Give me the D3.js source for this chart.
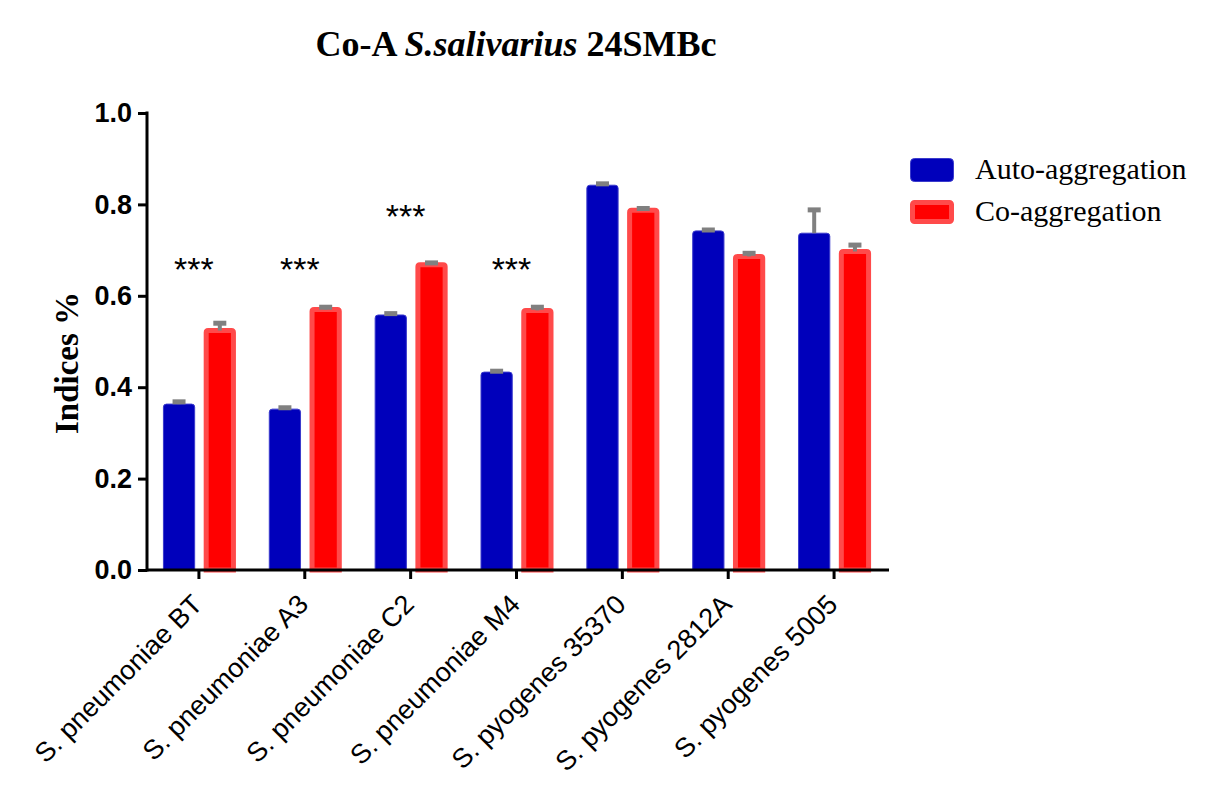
<!DOCTYPE html>
<html>
<head>
<meta charset="utf-8">
<script src="https://cdn.jsdelivr.net/npm/d3@7"></script>
<style>
  body { margin: 0; background: #fff; }
  svg { display: block; }
</style>
</head>
<body>
<svg id="chart" width="1209" height="798"></svg>
<script>
// Data
const categories = ["S. pneumoniae BT", "S. pneumoniae A3", "S. pneumoniae C2", "S. pneumoniae M4",
                    "S. pyogenes 35370", "S. pyogenes 2812A", "S. pyogenes 5005"];
const seriesNames = ["Auto-aggregation", "Co-aggregation"];
const autoValues = [0.363, 0.352, 0.558, 0.433, 0.842, 0.742, 0.737];
const autoErrors = [0.005, 0.003, 0.003, 0.002, 0.003, 0.002, 0.051];
const coValues = [0.524, 0.570, 0.668, 0.568, 0.787, 0.686, 0.697];
const coErrors = [0.016, 0.005, 0.004, 0.007, 0.004, 0.007, 0.014];
const starCategories = ["S. pneumoniae BT", "S. pneumoniae A3", "S. pneumoniae C2", "S. pneumoniae M4"];
const starLevels = [0.675, 0.675, 0.79, 0.675];
const yTicks = [0, 0.2, 0.4, 0.6, 0.8, 1.0];

const svg = d3.select("#chart");
const colors = { auto: "#0000bb", autoEdge: "#3a3acc", co: "#ff0000", coEdge: "#ff4a4a", err: "#808080" };

const x = d3.scaleBand().domain(categories).range([146, 887]).padding(0);
const inner = d3.scaleBand().domain(["auto", "co"]).range([-36, 37]).paddingInner(0.209);
const y = d3.scaleLinear().domain([0, 1]).range([570, 113]);

// bar with rounded top corners
function barPath(x0, x1, yTop, yBase, r) {
    return `M${x0},${yBase}V${yTop + r}Q${x0},${yTop} ${x0 + r},${yTop}H${x1 - r}Q${x1},${yTop} ${x1},${yTop + r}V${yBase}Z`;
}

const rows = categories.map((c, i) => ({ cat: c, auto: autoValues[i], autoErr: autoErrors[i], co: coValues[i], coErr: coErrors[i] }));

const bars = svg.append("g");
rows.forEach(d => {
    const cx = x(d.cat) + x.bandwidth() / 2;
    // auto-aggregation bar (thin edge)
    const ax0 = cx + inner("auto") + 0.5, ax1 = cx + inner("auto") + inner.bandwidth() - 0.5;
    bars.append("path")
        .attr("d", barPath(ax0, ax1, y(d.auto), y(0), 3))
        .attr("fill", colors.auto).attr("stroke", colors.autoEdge).attr("stroke-width", 1);
    // co-aggregation bar (thick light edge)
    const rx0 = cx + inner("co") + 2.5, rx1 = cx + inner("co") + inner.bandwidth() - 2.5;
    bars.append("path")
        .attr("d", barPath(rx0, rx1, y(d.co), y(0), 2))
        .attr("fill", colors.co).attr("stroke", colors.coEdge).attr("stroke-width", 5);

    // error bars (upper only)
    [[ (ax0 + ax1) / 2, d.auto, d.autoErr ], [ (rx0 + rx1) / 2, d.co, d.coErr ]].forEach(([ex, v, e]) => {
        bars.append("line")
            .attr("x1", ex).attr("x2", ex).attr("y1", y(v)).attr("y2", y(v + e))
            .attr("stroke", colors.err).attr("stroke-width", 4);
        bars.append("line")
            .attr("x1", ex - 6.5).attr("x2", ex + 6.5).attr("y1", y(v + e)).attr("y2", y(v + e))
            .attr("stroke", colors.err).attr("stroke-width", 5);
    });
});

// significance stars
svg.append("g").selectAll("text")
    .data(starCategories)
    .join("text")
    .attr("x", c => x(c) + x.bandwidth() / 2 - 5)
    .attr("y", (c, i) => y(starLevels[i]) + 19)
    .attr("text-anchor", "middle")
    .style("font-family", "Arial, 'Liberation Sans', sans-serif")
    .style("font-size", "34px")
    .text("***");

// Y axis
const yAxis = svg.append("g")
    .attr("transform", "translate(147,0)")
    .call(d3.axisLeft(y).tickValues(yTicks).tickFormat(d3.format(".1f")).tickSize(9).tickSizeOuter(0).tickPadding(6));
yAxis.select(".domain").attr("stroke", "#000").attr("stroke-width", 3).attr("d", `M0,${y(1) - 1.5}V${y(0) + 1.5}`);
yAxis.selectAll(".tick line").attr("stroke", "#000").attr("stroke-width", 3);
yAxis.selectAll(".tick text")
    .style("font-family", "Arial, 'Liberation Sans', sans-serif")
    .style("font-size", "27px").style("font-weight", "bold").attr("fill", "#000");

// X axis
const xAxis = svg.append("g")
    .attr("transform", "translate(0,570)")
    .call(d3.axisBottom(x).tickSize(9).tickSizeOuter(0));
xAxis.select(".domain").attr("stroke", "#000").attr("stroke-width", 3).attr("d", "M146,0H889");
xAxis.selectAll(".tick line").attr("stroke", "#000").attr("stroke-width", 3);
xAxis.selectAll(".tick text")
    .attr("transform", "translate(5,36) rotate(-45)")
    .attr("x", 0).attr("y", 0).attr("dy", 0)
    .attr("text-anchor", "end")
    .style("font-family", "Arial, 'Liberation Sans', sans-serif")
    .style("font-size", "27px").attr("fill", "#000");

// Y title
svg.append("text")
    .attr("transform", "translate(78,363) rotate(-90)")
    .attr("text-anchor", "middle")
    .style("font-family", "'Liberation Serif', 'Times New Roman', serif")
    .style("font-size", "33px").style("font-weight", "bold")
    .text("Indices %");

// Title
const title = svg.append("text")
    .attr("x", 516).attr("y", 56)
    .attr("text-anchor", "middle")
    .style("font-family", "'Liberation Serif', 'Times New Roman', serif")
    .style("font-size", "36px").style("font-weight", "bold");
title.append("tspan").text("Co-A ");
title.append("tspan").style("font-style", "italic").text("S.salivarius");
title.append("tspan").text(" 24SMBc");

// Legend
const legend = svg.append("g");
seriesNames.forEach((name, i) => {
    const ly = 158 + i * 42;
    if (i === 0) {
        legend.append("rect").attr("x", 910.5).attr("y", ly + 0.5).attr("width", 43).attr("height", 23).attr("rx", 4)
            .attr("fill", colors.auto).attr("stroke", colors.autoEdge).attr("stroke-width", 1);
    } else {
        legend.append("rect").attr("x", 912.5).attr("y", ly + 2.5).attr("width", 39).attr("height", 19).attr("rx", 2)
            .attr("fill", colors.co).attr("stroke", colors.coEdge).attr("stroke-width", 5);
    }
    legend.append("text")
        .attr("x", 975).attr("y", ly + 21)
        .style("font-family", "'Liberation Serif', 'Times New Roman', serif")
        .style("font-size", "30px")
        .text(name);
});
</script>
</body>
</html>
